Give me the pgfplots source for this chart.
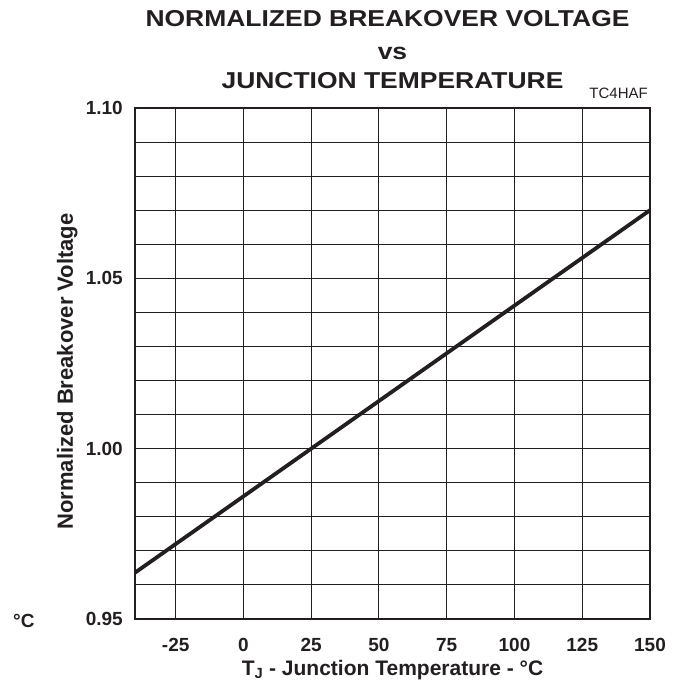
\documentclass[border=0pt]{standalone}
\usepackage{pgfplots}
\pgfplotsset{compat=1.18}
\usepackage{fontspec}
\setmainfont{Liberation Sans}
\definecolor{ink}{HTML}{231F20}
\begin{document}
\begin{tikzpicture}
% page frame, same proportions as the reference
\path[use as bounding box] (-135pt,-80pt) rectangle (547pt,619pt);
\begin{axis}[
  scale only axis,
  width=515pt, height=511pt,
  xmin=-40, xmax=150,
  ymin=0.95, ymax=1.10,
  xtick={-25,0,25,50,75,100,125,150},
  ytick={0.95,1.00,1.05,1.10},
  minor y tick num=4,
  grid=both,
  major grid style={line width=1.1pt, ink},
  minor grid style={line width=1.1pt, ink},
  axis line style={line width=2.2pt, ink},
  major tick length=0pt, minor tick length=0pt,
  /pgf/number format/assume math mode=true,
  ticklabel style={font=\fontsize{19}{22}\selectfont\bfseries, text=ink, inner sep=0pt},
  yticklabel style={/pgf/number format/fixed, /pgf/number format/fixed zerofill,
    /pgf/number format/precision=2, xshift=-12pt},
  xticklabel style={yshift=-19pt},
  xlabel={T\textsubscript{J} - Junction Temperature - °C},
  ylabel={Normalized Breakover Voltage},
  label style={text=ink, inner sep=0pt},
  xlabel style={font=\fontsize{21}{25}\selectfont\bfseries,
    at={(axis description cs:0.5,0)}, anchor=base, yshift=-56pt},
  ylabel style={font=\fontsize{22}{26}\selectfont\bfseries,
    at={(axis description cs:0,0.5)}, anchor=base, yshift=62pt, xshift=-8pt},
]
\addplot[line width=3.8pt, ink] coordinates {(-40,0.9636) (150,1.070)};
\end{axis}
\begin{scope}[every node/.style={font=\fontsize{23}{27}\selectfont\bfseries, text=ink, inner sep=0pt, anchor=base, xscale=1.15}]
\node at ([shift={(-5pt,81pt)}]current axis.north) {NORMALIZED BREAKOVER VOLTAGE};
\node at ([yshift=48pt]current axis.north) {vs};
\node at ([yshift=19pt]current axis.north) {JUNCTION TEMPERATURE};
\end{scope}
\node[font=\fontsize{15}{18}\selectfont, text=ink, inner sep=0pt, anchor=base east]
  at ([shift={(-2pt,9pt)}]current axis.north east) {TC4HAF};
\node[font=\fontsize{19}{22}\selectfont\bfseries, text=ink, inner sep=0pt, anchor=base west]
  at ([shift={(-122pt,-9pt)}]current axis.south west) {°C};
\end{tikzpicture}
\end{document}
